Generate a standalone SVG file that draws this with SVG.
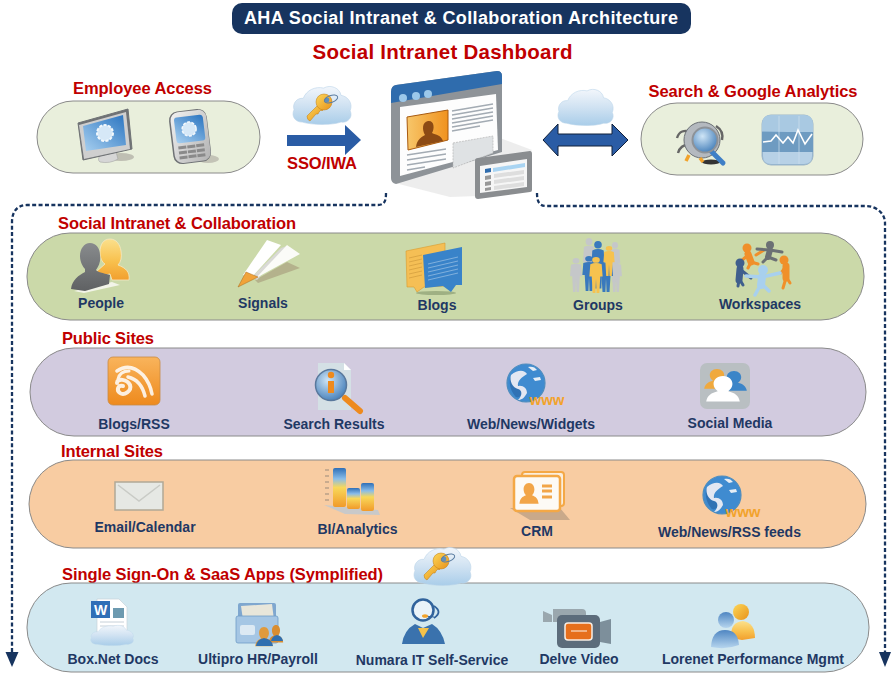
<svg xmlns="http://www.w3.org/2000/svg" width="893" height="676" viewBox="0 0 893 676">
<style>
text{font-family:"Liberation Sans",Arial,sans-serif;font-weight:bold}
.h{fill:#c00000;font-size:16.5px}
.l{fill:#1f3864;font-size:14px;text-anchor:middle}
.band{stroke:#8a8a8a;stroke-width:1}
.dash{fill:none;stroke:#17345f;stroke-width:2.300;stroke-dasharray:4 2.400}
.line{fill:none;stroke:#a3abb3;stroke-width:1.400}
</style>
<defs>
<linearGradient id="gCloud" x1="0" y1="0" x2="0" y2="1"><stop offset="0" stop-color="#f2f6fb"/><stop offset=".5" stop-color="#d0e2f2"/><stop offset="1" stop-color="#a9cde9"/></linearGradient>
<linearGradient id="gKey" x1="0" y1="0" x2="1" y2="1"><stop offset="0" stop-color="#fcd759"/><stop offset="1" stop-color="#e8921a"/></linearGradient>
<linearGradient id="gScreen" x1="1" y1="0" x2="0" y2="1"><stop offset="0" stop-color="#2a74c0"/><stop offset="1" stop-color="#a8d0f0"/></linearGradient>
<linearGradient id="gSilver" x1="0" y1="0" x2="1" y2="1"><stop offset="0" stop-color="#f2f2f2"/><stop offset="1" stop-color="#b2b2b2"/></linearGradient>
<linearGradient id="gGrayP" x1="0" y1="0" x2="0" y2="1"><stop offset="0" stop-color="#888b8d"/><stop offset="1" stop-color="#5f6163"/></linearGradient>
<linearGradient id="gYellP" x1="0" y1="0" x2="0" y2="1"><stop offset="0" stop-color="#fbe08c"/><stop offset=".55" stop-color="#f8c04d"/><stop offset="1" stop-color="#f29f2e"/></linearGradient>
<linearGradient id="gPhoto" x1="0" y1="0" x2="1" y2="0"><stop offset="0" stop-color="#f7c66a"/><stop offset="1" stop-color="#f0921e"/></linearGradient>
<linearGradient id="gOrange" x1="0" y1="0" x2="0" y2="1"><stop offset="0" stop-color="#f9b45c"/><stop offset="1" stop-color="#ee8a1d"/></linearGradient>
<linearGradient id="gBar" x1="0" y1="0" x2="0" y2="1"><stop offset="0" stop-color="#2f6fb7"/><stop offset=".28" stop-color="#8abde9"/><stop offset=".5" stop-color="#f8d85a"/><stop offset="1" stop-color="#f19a2a"/></linearGradient>
<linearGradient id="gBlueP" x1="0" y1="0" x2="0" y2="1"><stop offset="0" stop-color="#4f86c2"/><stop offset="1" stop-color="#b6d5ee"/></linearGradient>
<radialGradient id="gLens" cx=".4" cy=".35" r=".8"><stop offset="0" stop-color="#cfe5f6"/><stop offset="1" stop-color="#2f6fb0"/></radialGradient>
<path id="cloud" d="M10 37C3 37-1 31 2 25C0 19 5 13 11 14C14 6 23 2 31 4C38 0 47 4 48 11C55 12 60 19 57 26C60 32 55 38 48 37C40 40 20 40 10 37Z" fill="url(#gCloud)" stroke="#bcd5ea" stroke-width=".6"/>
<g id="key"><path d="M1 23L13 11L18 16L16 18L15 17L13 19L12 21L10 21L4 28Q1 27 1 23Z" fill="url(#gKey)" stroke="#bf7a12" stroke-width=".5"/><circle cx="18" cy="9" r="8" fill="url(#gKey)" stroke="#bf7a12" stroke-width=".5"/><circle cx="21" cy="7" r="2.400" fill="#5f8fbd"/><ellipse cx="25" cy="6" rx="7" ry="3.500" fill="none" stroke="#5b7da1" stroke-width="1" transform="rotate(-20 25 6)"/></g>
<g id="fig"><circle cx="0" cy="4" r="4"/><path d="M-6 10Q0 7 6 10L7 27L4.500 27L3.500 50L.6 50L0 31L-.6 50L-3.500 50L-4.500 27L-7 27Z"/></g>
<path id="bust" d="M0 0C-6 0-9 5-9 10C-9 14-7 17-5 19C-11 21-15 24-16 32L16 32C15 24 11 21 5 19C7 17 9 14 9 10C9 5 6 0 0 0Z"/>
<g id="globe"><circle r="19" fill="#3f8bd0" stroke="#4f8dbe" stroke-width="1.200"/><path d="M-16 -5C-11 -12 -5 -13 -2 -10C-7 -7 -12 -4 -11 1C-7 2 -3 4 -2 9C-5 14 -9 16 -11 13C-15 8 -17 2 -16 -5Z" fill="#3072b4"/><path d="M-15 -8C-8 -14 -1 -13 1 -9C-4 -6 -9 -2 -8 3C-3 2 1 5 1 10C-2 15 -4 17 -8 17C-3 12 -4 7 -8 6C-13 5 -17 -2 -15 -8Z" fill="#e2e7f2"/><path d="M2 -16C6 -17 9 -16 11 -13L7 -12ZM7 -5L14 -6L15 -3L9 -2Z" fill="#e6eef6"/><text x="21" y="22" font-size="15px" fill="#f2a32c" text-anchor="middle">www</text></g>
</defs>
<rect width="893" height="676" fill="#fff"/>

<g id="connectors">
<path class="dash" d="M386 193C386 200 385 205 378 205L27 205C17 205 12 212 12 222L12 653"/>
<path class="dash" d="M537 193C537 201 539 206 546 206L866 206C876 206 885 213 885 223L885 653"/>
<path d="M5.500 652L18.500 652L12 667Z" fill="#17345f"/>
<path d="M879 652L891 652L885 667Z" fill="#17345f"/>
<path d="M287 135H345V125L361 140L345 155V146H287Z" fill="#2a5ca5"/>
<path d="M543 140L558 124V134H612V124L628 140L612 156V146H558V156Z" fill="#2a5ca5" stroke="#10203a" stroke-width="1"/>
</g>

<g id="title"><rect x="232" y="3" width="459" height="31" rx="10" fill="#17345f"/><text x="461" y="24" font-size="18px" fill="#fff" text-anchor="middle" textLength="434">AHA Social Intranet &amp; Collaboration Architecture</text></g>
<text x="442.500" y="59" font-size="20.500px" fill="#c00000" text-anchor="middle" textLength="260">Social Intranet Dashboard</text>

<g id="employee-access">
<text class="h" x="142.500" y="94" text-anchor="middle" textLength="139">Employee Access</text>
<rect class="band" x="37" y="101" width="223" height="72" rx="36" fill="#e9efdc"/>
<g id="monitor"><ellipse cx="121" cy="157" rx="13" ry="4" fill="#bfbfb3"/><path d="M100 155L116 152L118 159Q110 164 100 162Q97 160 100 155Z" fill="#d6d6d6" stroke="#9a9a9a" stroke-width=".5"/><path d="M78 123L128 109L132 149L83 160Z" fill="#6f7275" stroke="#6f7275" stroke-width="1" stroke-linejoin="round"/><path d="M79 125L126 112L130 149L84 159Z" fill="#cfcfcf"/><path d="M83 126L123 115L126 145L86 151Z" fill="url(#gScreen)"/><circle cx="105" cy="133" r="8" fill="#d6e8f7" stroke="#f3f8fc" stroke-width="2" stroke-dasharray="3 1.500"/></g>
<g id="phone"><ellipse cx="208" cy="159" rx="11" ry="4" fill="#c3c3b6"/><g transform="rotate(-7 190 136)"><rect x="171" y="110" width="38" height="53" rx="9" fill="#6f7275"/><rect x="172.500" y="111" width="36" height="51" rx="8" fill="url(#gSilver)"/><rect x="176" y="116" width="29" height="26" rx="3" fill="url(#gScreen)"/><circle cx="190" cy="129" r="7" fill="#d6e8f7" stroke="#f3f8fc" stroke-width="1.500" stroke-dasharray="3 1.500"/><g fill="#8a8a8a"><rect x="177" y="145" width="8" height="3"/><rect x="186" y="145" width="8" height="3"/><rect x="195" y="145" width="8" height="3"/><rect x="177" y="150" width="8" height="3"/><rect x="186" y="150" width="8" height="3"/><rect x="195" y="150" width="8" height="3"/><rect x="177" y="155" width="8" height="3"/><rect x="186" y="155" width="8" height="3"/><rect x="195" y="155" width="8" height="3"/></g></g></g>
</g>

<g id="sso-iwa">
<use href="#cloud" transform="translate(292 84) scale(1.020 1.030)"/>
<use href="#key" transform="translate(306 93)"/>
<text x="322" y="169" font-size="16.500px" fill="#c00000" text-anchor="middle" textLength="70">SSO/IWA</text>
</g>

<g id="dashboard">
<path d="M395 183L450 197L478 196L532 150L500 138L470 150Z" fill="#e6e6e6" opacity=".7"/>
<path d="M391 92Q391 86 396 85L497 71Q502 71 502 76L502 152L396 184Q391 183 391 178Z" fill="#8e9398"/>
<path d="M391 92Q391 86 396 85L497 71Q502 71 502 76V84L391 103Z" fill="#2f6cad"/>
<g fill="#9cc8ea"><circle cx="403" cy="98" r="4"/><circle cx="416" cy="96" r="4"/><circle cx="428" cy="94" r="4"/></g>
<path d="M400 107L496 94L498 150L400 176Z" fill="#fdfdfd"/>
<path d="M407 117L448 110V140L408 150Z" fill="url(#gPhoto)" stroke="#a85a10" stroke-width="1"/>
<path d="M416 147C417 139 422 137 425 135C422 130 422 122 428 121C434 120 435 128 432 133C436 135 441 135 443 141Z" fill="#8c4a14"/>
<g class="line"><path d="M452 111L493 104M452 115L493 108M452 119L493 112M452 123L493 116M452 127L493 120M452 131L480 126"/><path d="M407 155L446 149M407 160L446 154M407 165L446 159M407 170L425 167"/></g>
<path d="M453 143L493 136V153L453 168Z" fill="#dfe2e4" stroke="#b5b5b5" stroke-width=".7" stroke-dasharray="2 1"/>
<path d="M475 161Q475 158 478 158L530 151Q532 151 532 154V190Q532 192 530 192L478 199Q475 199 475 196Z" fill="#8a8d90"/>
<path d="M480 166L527 159V187L480 193Z" fill="#f6f6f6"/>
<path d="M485 169L491 168V172L485 173Z" fill="#2f6cad"/><path d="M493 168L525 163V167L493 172Z" fill="#a9d4f2"/>
<g fill="#999"><path d="M485 176L491 175V179L485 180Z"/><path d="M485 182L491 181V185L485 186Z"/><path d="M485 188L491 187V190L485 191Z"/></g>
<g fill="#dedede"><path d="M494 174L524 170V174L494 178Z"/><path d="M494 180L524 176V180L494 184Z"/><path d="M494 186L524 182V186L494 190Z"/></g>
</g>

<g id="analytics-cloud"><use href="#cloud" transform="translate(557 87) scale(.97 .98)"/></g>

<g id="search-analytics">
<text class="h" x="753" y="97" text-anchor="middle" textLength="209">Search &amp; Google Analytics</text>
<rect class="band" x="641" y="103" width="222" height="72" rx="36" fill="#e9efdc"/>
<g id="search-bug"><ellipse cx="711" cy="162" rx="9" ry="2.500" fill="#333"/><g fill="none" stroke="#666" stroke-width="2.400"><path d="M692 132Q680 128 677 138"/><path d="M690 144Q680 145 678 153"/><path d="M716 126Q724 131 722 140"/></g><circle cx="702" cy="140" r="18" fill="#b4b9bf" stroke="#6c7176" stroke-width="1"/><path d="M689 155L686 161M700 158L703 162" stroke="#f2a32c" stroke-width="3.500"/><path d="M708 148L723 163" stroke="#3f7fc6" stroke-width="5" stroke-linecap="round"/><circle cx="705" cy="140" r="12.500" fill="url(#gLens)" stroke="#8d9298" stroke-width="2"/></g>
<g id="stocks"><rect x="762" y="115" width="51" height="50" rx="9" fill="#8db3d3" stroke="#9fb6c8" stroke-width="1"/><path d="M762 124Q762 115 771 115H804Q813 115 813 124V133L762 131Z" fill="#a9c9e2"/><path d="M762 132H813V152H762Z" fill="#6e9bc1"/><path d="M763 152H812V156Q812 164 804 164H771Q763 164 763 156Z" fill="#b7d1e6"/><path d="M779 116V164M799 116V164" stroke="#cfe0ee" stroke-width=".7"/><path d="M763 142L771 141L776 135L783 143L788 137L793 143L798 130L805 144L812 134" fill="none" stroke="#fff" stroke-width="1.600"/></g>
</g>

<g id="social-intranet">
<text class="h" x="177" y="229" text-anchor="middle" textLength="238">Social Intranet &amp; Collaboration</text>
<rect class="band" x="27" y="233" width="837" height="87" rx="43" fill="#cbd9a9"/>
<g id="people"><path d="M74 291L112 282L120 285L84 293Z" fill="#f2f4e8"/><path d="M110 239C103 239 100 245 100 252C100 258 102 262 105 264L96 272L100 276L110 274L112 280L129 280C130 272 126 268 118 265C121 262 122 257 121 251C120 244 116 239 110 239Z" fill="url(#gYellP)" stroke="#f6e9c4" stroke-width=".8"/><path d="M90 243C84 243 80 249 80 256C80 262 83 267 85 269L85 272C79 275 72 280 71 289L85 291L109 284L110 275C103 273 97 272 96 270C99 266 101 261 100 255C100 248 96 243 90 243Z" fill="url(#gGrayP)"/></g>
<g id="signals"><path d="M255 280L287 262L300 268L258 283Z" fill="#b4b28c"/><path d="M252 277L281 248L287 246L257 280Z" fill="#d9d9d6"/><path d="M243 275L267 240L281 245L252 277Z" fill="#fff"/><path d="M256 278L287 245L300 254Z" fill="#fbfbf8"/><path d="M238 287L246 272L258 277Z" fill="#f1a33a" stroke="#a86a1c" stroke-width=".5"/></g>
<g id="blogs"><ellipse cx="436" cy="293" rx="20" ry="2" fill="#9fb083"/><path d="M406 251L445 243V286L424 287L417 292L414 287L407 287Z" fill="#f5bf55" stroke="#d89a2d" stroke-width=".6"/><g fill="none" stroke="#b6832c" stroke-width=".6" opacity=".7"><path d="M409 258L422 255M409 262L422 259M409 266L422 263M409 270L422 267M409 274L422 271M409 278L422 275"/></g><path d="M423 255L462 247V285L456 285L451 292L443 286L425 288Z" fill="#3983c9"/><g fill="none" stroke="#fff" stroke-width=".6" opacity=".6"><path d="M428 264L458 257M428 268L458 261M428 272L458 265M428 276L458 269M428 280L458 273"/></g></g>
<g id="groups"><g fill="#c5c7c9"><use href="#fig" transform="translate(589 238) scale(.85 .9)"/><use href="#fig" transform="translate(615 242) scale(.75 .8)"/><use href="#fig" transform="translate(576 258) scale(.85 .68)"/><use href="#fig" transform="translate(616 258) scale(.85 .68)"/></g><g fill="#3979bd"><use href="#fig" transform="translate(598 241) scale(.95 .95)"/><use href="#fig" transform="translate(589 256) scale(.95 .7)"/><use href="#fig" transform="translate(606 257) scale(1 .7)"/></g><g fill="#f6c24f"><use href="#fig" transform="translate(609 246) scale(.8 .6)"/><use href="#fig" transform="translate(596 257) scale(.95 .72)"/></g></g>
<g id="workspaces" fill="none" stroke-linecap="round" stroke-linejoin="round"><g stroke="#f0902a" stroke-width="3"><path d="M756 255L764 250M748 255L740 262M751 262L758 264M751 262L748 268"/><path d="M748 254L751 262" stroke-width="7"/></g><circle cx="747" cy="248" r="4.500" fill="#f0902a"/><g stroke="#6b7074" stroke-width="3"><path d="M770 250L757 249M770 250L782 252M768 257L763 262M768 257L776 260"/><path d="M770 250L768 257" stroke-width="6"/></g><circle cx="770" cy="245" r="4" fill="#6b7074"/><g stroke="#f0902a" stroke-width="3"><path d="M786 266L781 273M786 278L783 288M787 278L790 283"/><path d="M786 266L786 278" stroke-width="7"/></g><circle cx="784" cy="260" r="4.500" fill="#f0902a"/><g stroke="#3f5f8d" stroke-width="3"><path d="M741 270L751 278M739 280L738 286M740 280L743 285"/><path d="M740 269L739 280" stroke-width="7"/></g><circle cx="740" cy="263" r="4.500" fill="#3f5f8d"/><g stroke="#a8d0ee" stroke-width="3.500"><path d="M762 277L746 276M762 277L780 273M761 284L755 295M762 284L769 291"/><path d="M762 277L761 285" stroke-width="8"/></g><circle cx="763" cy="270" r="5" fill="#a8d0ee"/></g>
<text class="l" x="101" y="308">People</text><text class="l" x="263" y="308">Signals</text><text class="l" x="437" y="310">Blogs</text><text class="l" x="598" y="310">Groups</text><text class="l" x="760" y="309">Workspaces</text>
</g>

<g id="public-sites">
<text class="h" x="108" y="344" text-anchor="middle" textLength="92">Public Sites</text>
<rect class="band" x="30" y="348" width="836" height="88" rx="44" fill="#d2cbdf"/>
<g id="rss"><rect x="108" y="357" width="52" height="48" rx="5" fill="url(#gOrange)" stroke="#c88b45" stroke-width=".8"/><g fill="none" stroke="#fff" stroke-linecap="round" opacity=".85"><path d="M118 379Q120 371 129 371" stroke-width="3"/><path d="M117 371Q130 362 143 375Q150 383 152 394" stroke-width="3.500"/><path d="M128 377Q141 380 145 396" stroke-width="3.500"/><path d="M117 383C117 378 127 379 130 385C132 391 124 396 120 393C116 390 118 385 123 386" stroke-width="4"/></g></g>
<g id="search-results"><path d="M318 363H344L351 370V410H318Z" fill="#d4e0e5"/><path d="M344 363V370H351Z" fill="#fff"/><path d="M345 398L360 411" stroke="#ee8a1d" stroke-width="6" stroke-linecap="round"/><circle cx="331" cy="385" r="15.500" fill="url(#gLens)" stroke="#59789c" stroke-width="1.500"/><circle cx="331" cy="375" r="3.200" fill="#ee8a1d"/><rect x="328" y="381" width="6" height="12" fill="#ee8a1d"/></g>
<use id="globe-news" href="#globe" transform="translate(526 383)"/>
<g id="social-media"><rect x="700" y="363" width="50" height="46" rx="7" fill="#b9bfc2"/><use href="#bust" transform="translate(717 369) scale(.8 .62)" fill="#f0a93d"/><use href="#bust" transform="translate(734 371) scale(.8 .62)" fill="#3b85c8"/><use href="#bust" transform="translate(723 376) scale(1.050 .8)" fill="#fff"/></g>
<text class="l" x="134" y="429">Blogs/RSS</text><text class="l" x="334" y="429">Search Results</text><text class="l" x="531" y="429">Web/News/Widgets</text><text class="l" x="730" y="428">Social Media</text>
</g>

<g id="internal-sites">
<text class="h" x="112" y="457" text-anchor="middle" textLength="102">Internal Sites</text>
<rect class="band" x="29" y="460" width="837" height="88" rx="44" fill="#f8cca2"/>
<g id="email"><rect x="115" y="482" width="48" height="28" fill="#e6e8e4" stroke="#b0a896" stroke-width="1.500"/><path d="M118 485L139 501L160 485" fill="none" stroke="#c9cbc6" stroke-width="1.500"/></g>
<g id="bi"><path d="M324 505L378 510L380 515L345 514Z" fill="#c9c9c9"/><g stroke="#9a8a7a" stroke-width="1"><path d="M325 470h4M325 476h4M325 482h4M325 488h4M325 494h4M325 500h4"/></g><rect x="333" y="468" width="13" height="39" rx="2" fill="url(#gBar)"/><rect x="347" y="488" width="13" height="21" rx="2" fill="url(#gBar)"/><rect x="361" y="483" width="13" height="28" rx="2" fill="url(#gBar)"/></g>
<g id="crm"><path d="M510 508L560 508L570 520L530 520Z" fill="#c9a98a"/><rect x="522" y="472" width="42" height="34" rx="3" fill="#fbeedd" stroke="#f4a846" stroke-width="2"/><rect x="514" y="476" width="46" height="35" rx="3" fill="#fdfaf5" stroke="#f4a846" stroke-width="2.500"/><use href="#bust" transform="translate(529 483) scale(.6 .65)" fill="#f2a548"/><path d="M542 486H552M542 491H552M542 497H552" stroke="#f2a548" stroke-width="3"/></g>
<use id="globe-rss" href="#globe" transform="translate(722 495)"/>
<text class="l" x="145" y="532">Email/Calendar</text><text class="l" x="357.500" y="534">BI/Analytics</text><text class="l" x="537" y="536">CRM</text><text class="l" x="729.500" y="537">Web/News/RSS feeds</text>
</g>

<g id="saas-apps">
<text class="h" x="222.500" y="580" text-anchor="middle" textLength="321">Single Sign-On &amp; SaaS Apps (Symplified)</text>
<rect class="band" x="27" y="583" width="842" height="89" rx="44" fill="#d2e8f0"/>
<g id="sso-cloud"><use href="#cloud" transform="translate(413 545) scale(1 1.030)"/><use href="#key" transform="translate(423 552)"/></g>
<g id="box"><path d="M97 599H119L127 607V640H97Z" fill="#fff" stroke="#c9d2da" stroke-width=".7"/><rect x="91" y="601" width="19" height="17" fill="#2f6fb7"/><text x="100.500" y="615" font-size="14px" fill="#fff" text-anchor="middle">W</text><path d="M113 608H124V618H113Z" fill="#6d9ab0"/><path d="M100 622H124M100 626H124" stroke="#c6d0d8" stroke-width="1"/><use href="#cloud" transform="translate(90 624) scale(.75 .55)"/></g>
<g id="ultipro"><rect x="238" y="603" width="38" height="22" rx="2" fill="#7fa7cf"/><path d="M241 606L272 604L274 620L243 620Z" fill="#e8e6da"/><rect x="236" y="616" width="42" height="27" rx="2" fill="#a5c6e4" stroke="#6f9cc6" stroke-width=".8"/><rect x="240" y="625" width="15" height="10" rx="2" fill="#dce9f3"/><use href="#bust" transform="translate(264 627) scale(.55 .6)" fill="#e09a3d"/><use href="#bust" transform="translate(276 625) scale(.45 .55)" fill="#d98d31"/><path d="M256 646L273 646Q272 639 264 638Q257 639 256 646Z" fill="#2f6fb0"/><path d="M271 641L283 641Q282 636 277 635Q272 636 271 641Z" fill="#2f6fb0"/></g>
<g id="numara"><path d="M402 644Q404 630 415 624L423 628L432 624Q442 630 445 644Z" fill="#3a72ad"/><path d="M418 628L429 628L423 638Z" fill="#f5c24a"/><circle cx="423" cy="610" r="10.500" fill="#eaf3f9" stroke="#31639c" stroke-width="2.500"/><path d="M434 606Q443 612 434 618" fill="none" stroke="#31639c" stroke-width="1.800"/><path d="M434 617L425 616" stroke="#31639c" stroke-width="1"/><ellipse cx="425" cy="616" rx="3" ry="1.800" fill="#f2a32c"/></g>
<g id="delve"><path d="M553 609H582Q586 609 586 613V622H553ZM543 611L552 615V622L543 622Z" fill="#9aa7ae"/><rect x="557" y="615" width="43" height="33" rx="5" fill="#5c6c7b"/><path d="M600 622L611 619V644L600 642Z" fill="#7d8f9b"/><rect x="565" y="623" width="27" height="17" rx="3" fill="#e66f1c" stroke="#f7ede3" stroke-width="1.500"/><path d="M571 631H587" stroke="#fae0c9" stroke-width="1.200"/></g>
<g id="lorenet"><circle cx="741" cy="612" r="8" fill="url(#gKey)"/><path d="M731 638Q730 622 743 621Q755 623 755 638L742 640Z" fill="url(#gYellP)"/><circle cx="726" cy="620" r="8" fill="url(#gBlueP)"/><path d="M711 647Q712 630 725 630Q738 630 739 645Q726 650 711 647Z" fill="url(#gBlueP)"/></g>
<text class="l" x="113" y="664">Box.Net Docs</text><text class="l" x="258" y="664">Ultipro HR/Payroll</text><text class="l" x="432" y="665">Numara IT Self-Service</text><text class="l" x="579" y="664">Delve Video</text><text class="l" x="753" y="664">Lorenet Performance Mgmt</text>
</g>
</svg>
